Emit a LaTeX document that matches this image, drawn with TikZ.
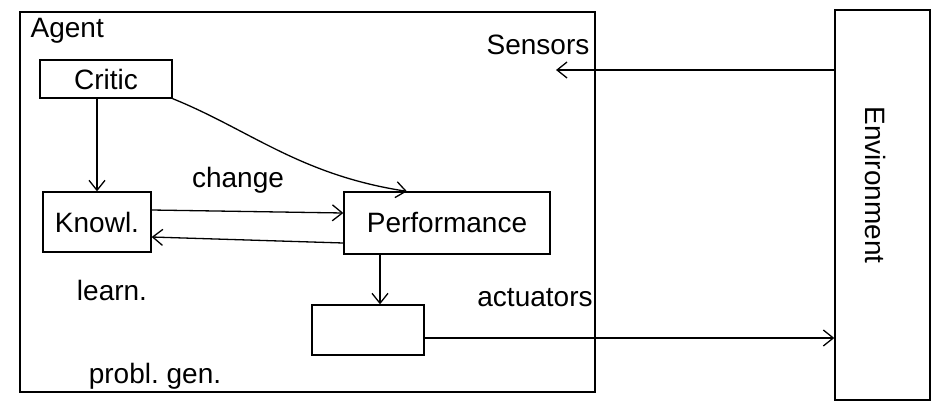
\documentclass[tikz,border=0pt]{standalone}
\usepackage{fontspec}
\setmainfont{Liberation Sans}
\usetikzlibrary{arrows.meta}
\begin{document}
\begin{tikzpicture}[x=1pt,y=-1pt,
  line width=1.3pt,
  every node/.style={font=\fontsize{28}{32}\selectfont},
  box/.style={draw, inner sep=0pt, line width=1.3pt},
  arr/.style={line width=1.3pt, -{Straight Barb[length=10pt,width=16pt,line width=1.3pt]}},
  lbl/.style={inner sep=0pt}]
\useasboundingbox (0,0) rectangle (939,410);
% containers
\node[box, minimum width=575pt, minimum height=380pt] (agent) at (307.5,202) {};
\node[box, minimum width=95pt, minimum height=390pt] (env) at (882.5,205) {};
\node[lbl, anchor=north west] (agentlbl) at (30,18) {Agent};
\node[lbl, rotate=-90] (envlbl) at (875,185) {Environment};
% inner boxes
\node[box, minimum width=132pt, minimum height=38pt] (critic) at (106,79) {Critic};
\node[box, minimum width=108pt, minimum height=60pt] (knowl) at (97,222) {Knowl.};
\node[box, minimum width=206pt, minimum height=62pt] (perf) at (447,223) {Performance};
\node[box, minimum width=112pt, minimum height=50pt] (gen) at (368,330) {};
% labels
\node[lbl] (change) at (238,180) {change};
\node[lbl] (learn) at (112,290) {learn.};
\node[lbl] (probl) at (155,376) {probl.\ gen.};
\node[lbl] (act) at (535,298) {actuators};
\node[lbl] (sens) at (538,45) {Sensors};
% connectors
\draw[arr] (critic.south -| knowl.north) -- (knowl.north);
\draw[arr] (critic.south east) .. controls (250,130) and (300,175) .. ([xshift=-40pt]perf.north);
\draw[arr] ([yshift=12pt]knowl.east) -- ([yshift=10pt]perf.west);
\draw[arr] ([yshift=-20pt]perf.west) -- ([yshift=-15pt]knowl.east);
\coordinate (pg) at ([xshift=12pt]gen.north);
\draw[arr] (perf.south -| pg) -- (pg);
\coordinate (sin) at (556,70);
\draw[arr] (env.west |- sin) -- (sin);
\coordinate (gout) at ([yshift=-8pt]gen.east);
\draw[arr] (gout) -- (env.west |- gout);
\end{tikzpicture}
\end{document}
